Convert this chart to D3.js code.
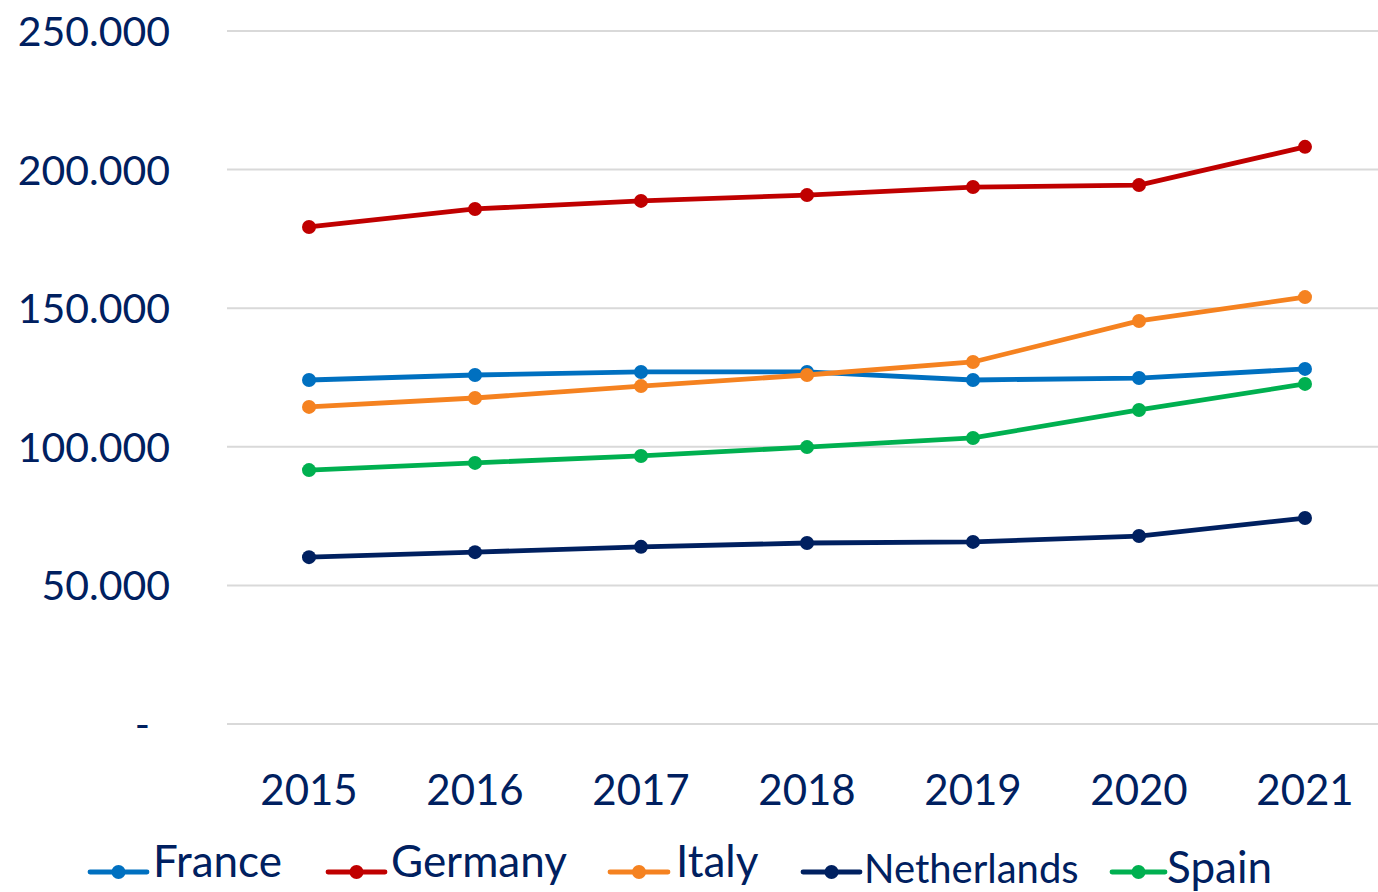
<!DOCTYPE html>
<html><head><meta charset="utf-8">
<script src="https://cdn.jsdelivr.net/npm/d3@7"></script>
<style>html,body{margin:0;padding:0;background:#fff;}svg{display:block;}</style>
</head><body>
<svg id="chart" width="1378" height="892"></svg>
<script>
const years = ["2015","2016","2017","2018","2019","2020","2021"];
const seriesNames = ["France","Germany","Italy","Netherlands","Spain"];
const france = [124100,125900,127000,127000,124100,124800,128100];
const germany = [179300,185800,188700,190800,193700,194400,208200];
const italy = [114400,117600,121900,125900,130600,145400,154000];
const netherlands = [60200,62000,63900,65300,65700,67800,74300];
const spain = [91600,94200,96700,99900,103200,113300,122700];
const yTicks = [0,50000,100000,150000,200000,250000];
const yTickLabels = ["-","50.000","100.000","150.000","200.000","250.000"];
const colors = ["#0070C0","#C00000","#F58220","#002060","#00B050"];

const values = [france, germany, italy, netherlands, spain];
const textColor = "#002060";
const font = "Lato, 'Noto Sans', sans-serif";

const svg = d3.select("#chart");
const x = d3.scalePoint().domain(years).range([226,1388]).padding(0.5);
const y = d3.scaleLinear().domain([0,250000]).range([724,31]);

// grid
svg.append("g").selectAll("line").data(yTicks).join("line")
  .attr("x1",227).attr("x2",1378)
  .attr("y1",d=>y(d)).attr("y2",d=>y(d))
  .attr("stroke","#d9d9d9").attr("stroke-width",2);

// y labels
svg.append("g").selectAll("text").data(yTicks).join("text")
  .attr("x",(d,i)=> i===0 ? 150 : 170)
  .attr("y",d=>y(d)+15)
  .attr("text-anchor","end")
  .attr("font-family",font).attr("font-size",41)
  .attr("fill",textColor)
  .text((d,i)=>yTickLabels[i]);

// x labels
svg.append("g").selectAll("text").data(years).join("text")
  .attr("x",d=>x(d)).attr("y",805)
  .attr("text-anchor","middle")
  .attr("font-family",font).attr("font-size",42)
  .attr("fill",textColor)
  .text(d=>d);

const line = d3.line().x((d,i)=>x(years[i])).y(d=>y(d));

seriesNames.forEach((name,si)=>{
  const g = svg.append("g");
  g.append("path").datum(values[si])
    .attr("d",line).attr("fill","none")
    .attr("stroke",colors[si]).attr("stroke-width",4.8)
    .attr("stroke-linejoin","round").attr("stroke-linecap","round");
  g.selectAll("circle").data(values[si]).join("circle")
    .attr("cx",(d,i)=>x(years[i])).attr("cy",d=>y(d)).attr("r",7)
    .attr("fill",colors[si]);
});

// legend
const legendItems = [
  {x1:90,x2:147,tx:153,ly:872,ty:877,fs:44},
  {x1:328,x2:385,tx:391,ly:872,ty:877,fs:44},
  {x1:610,x2:668,tx:676,ly:872,ty:877,fs:44},
  {x1:803,x2:860,tx:864,ly:872,ty:883,fs:40},
  {x1:1112,x2:1165,tx:1167,ly:872,ty:883,fs:44}
];
seriesNames.forEach((name,si)=>{
  const L = legendItems[si];
  const g = svg.append("g");
  g.append("line").attr("x1",L.x1).attr("x2",L.x2).attr("y1",L.ly).attr("y2",L.ly)
    .attr("stroke",colors[si]).attr("stroke-width",4.8).attr("stroke-linecap","round");
  g.append("circle").attr("cx",(L.x1+L.x2)/2).attr("cy",L.ly).attr("r",7).attr("fill",colors[si]);
  g.append("text").attr("x",L.tx).attr("y",L.ty)
    .attr("font-family",font).attr("font-size",L.fs).attr("fill",textColor).text(name);
});
</script>
</body></html>
